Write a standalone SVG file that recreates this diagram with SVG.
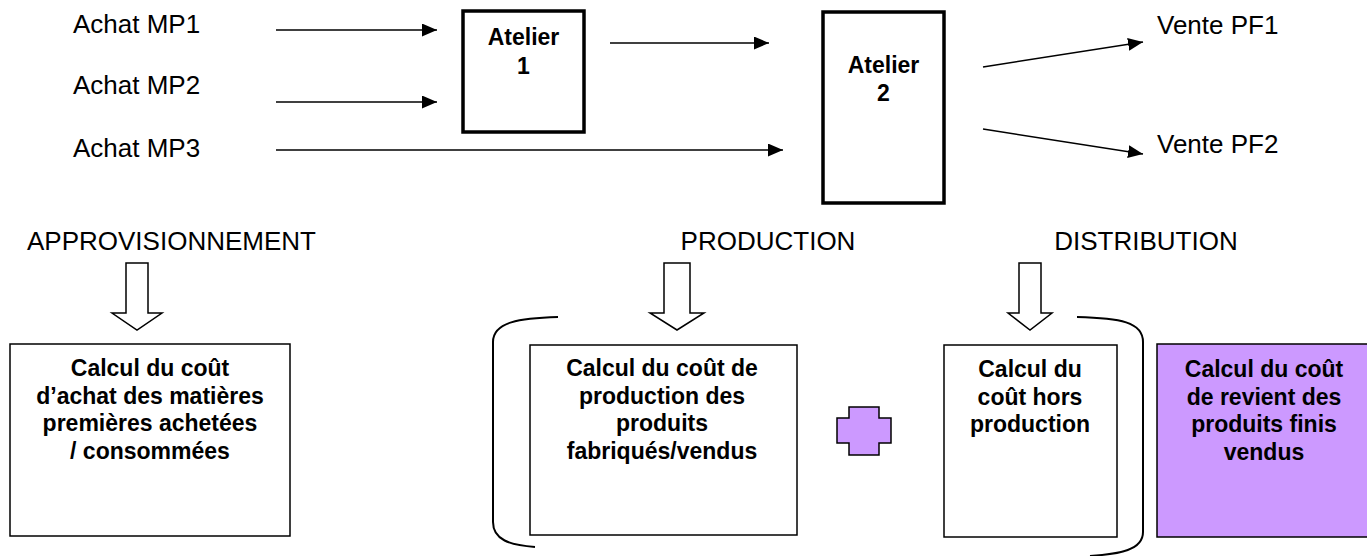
<svg xmlns="http://www.w3.org/2000/svg" width="1367" height="556" viewBox="0 0 1367 556">
<defs>
<marker id="ah" viewBox="0 0 15 13" refX="15" refY="6.5" markerWidth="15" markerHeight="13" markerUnits="userSpaceOnUse" orient="auto">
<path d="M0,0 L15,6.5 L0,13 z" fill="#000"/>
</marker>
<style>
.lbl{font-family:"Liberation Sans",Arial,sans-serif;font-size:26px;fill:#000}
.bt{font-family:"Liberation Sans",Arial,sans-serif;font-size:23px;font-weight:bold;fill:#000;text-anchor:middle}
.atl{fill:#fff;stroke:#000;stroke-width:3.5}
.box{fill:#fff;stroke:#000;stroke-width:1.5}
.purple{fill:#CC99FF;stroke:#000;stroke-width:1.5}
.conn{stroke:#000;stroke-width:1.5;fill:none;marker-end:url(#ah)}
.hollow{fill:#fff;stroke:#000;stroke-width:1.5;stroke-linejoin:miter}
.brk{fill:none;stroke:#000;stroke-width:2}
</style>
</defs>
<rect width="1367" height="556" fill="#fff"/>

<g id="connectors">
<line class="conn" x1="276" y1="30" x2="437" y2="30"/>
<line class="conn" x1="276" y1="102" x2="437" y2="102"/>
<line class="conn" x1="276" y1="150" x2="783" y2="150"/>
<line class="conn" x1="610" y1="43" x2="769" y2="43"/>
<line class="conn" x1="983" y1="67" x2="1143" y2="42"/>
<line class="conn" x1="983" y1="129" x2="1143" y2="154"/>
</g>

<g id="achat-mp1"><text class="lbl" x="73" y="33">Achat MP1</text></g>
<g id="achat-mp2"><text class="lbl" x="73" y="94">Achat MP2</text></g>
<g id="achat-mp3"><text class="lbl" x="73" y="157">Achat MP3</text></g>

<g id="atelier1">
<rect class="atl" x="463" y="11" width="121" height="121"/>
<text class="bt" x="523.5" y="45">Atelier</text>
<text class="bt" x="523.5" y="74">1</text>
</g>

<g id="atelier2">
<rect class="atl" x="823" y="12" width="121" height="191"/>
<text class="bt" x="883.5" y="73">Atelier</text>
<text class="bt" x="883.5" y="101">2</text>
</g>

<g id="vente-pf1"><text class="lbl" x="1157" y="34">Vente PF1</text></g>
<g id="vente-pf2"><text class="lbl" x="1157" y="153">Vente PF2</text></g>

<g id="approvisionnement">
<text class="lbl" x="27" y="250">APPROVISIONNEMENT</text>
<path class="hollow" d="M126,263 H148 V313 H162 L137,330 L112,313 H126 Z"/>
</g>

<g id="production">
<text class="lbl" x="768" y="250" text-anchor="middle">PRODUCTION</text>
<path class="hollow" d="M664,263 H690 V313 H704 L677,330 L650,313 H664 Z"/>
</g>

<g id="distribution">
<text class="lbl" x="1146" y="250" text-anchor="middle">DISTRIBUTION</text>
<path class="hollow" d="M1019,263 H1041 V313 H1052 L1030,330 L1008,313 H1019 Z"/>
</g>

<g id="brackets">
<path class="brk" d="M558,317 C520,318 493,322 493,342 L493,522 C493,540 510,545 535,547"/>
<path class="brk" d="M1077,317 C1120,318 1143,322 1143,342 L1143,532 C1143,550 1120,554 1090,556"/>
</g>

<g id="cout-achat">
<rect class="box" x="10" y="344" width="280" height="192"/>
<text class="bt" x="150" y="376">Calcul du coût</text>
<text class="bt" x="150" y="403.5">d’achat des matières</text>
<text class="bt" x="150" y="431">premières achetées</text>
<text class="bt" x="150" y="458.5">/ consommées</text>
</g>

<g id="cout-production">
<rect class="box" x="530" y="345" width="267" height="190"/>
<text class="bt" x="662" y="376">Calcul du coût de</text>
<text class="bt" x="662" y="403.5">production des</text>
<text class="bt" x="662" y="431">produits</text>
<text class="bt" x="662" y="458.5">fabriqués/vendus</text>
</g>

<g id="plus">
<path class="purple" d="M849,407 H879 V418 H891 V443 H879 V455 H849 V443 H837 V418 H849 Z"/>
</g>

<g id="cout-hors-production">
<rect class="box" x="944" y="345" width="173" height="192"/>
<text class="bt" x="1030" y="377">Calcul du</text>
<text class="bt" x="1030" y="404.5">coût hors</text>
<text class="bt" x="1030" y="432">production</text>
</g>

<g id="cout-revient">
<rect class="purple" x="1157" y="344" width="215" height="193"/>
<text class="bt" x="1264" y="377">Calcul du coût</text>
<text class="bt" x="1264" y="404.5">de revient des</text>
<text class="bt" x="1264" y="432">produits finis</text>
<text class="bt" x="1264" y="459.5">vendus</text>
</g>
</svg>
